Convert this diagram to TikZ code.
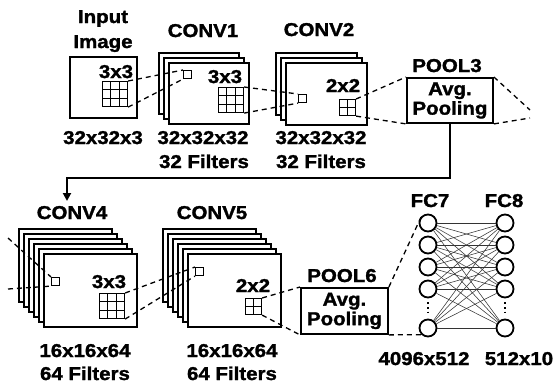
\documentclass[tikz,border=0pt]{standalone}
\usepackage{fontspec}
\setmainfont{Liberation Sans}[FakeStretch=1.1, BoldFeatures={FakeBold=1.5}]
\usetikzlibrary{positioning,arrows.meta,calc}

\begin{document}
\begin{tikzpicture}[
    x=1pt, y=-1pt,
    txt/.style={font=\bfseries\fontsize{18.6}{19}\selectfont, inner sep=0pt, anchor=base},
    fmap/.style={draw, fill=white, line width=1.6pt, anchor=north west, inner sep=0pt},
    poolbox/.style={draw, line width=1.9pt, align=center, inner sep=0pt, anchor=north west,
                    minimum width=86pt, minimum height=45pt,
                    font=\bfseries\fontsize{18.6}{19.5}\selectfont},
    kern/.style={draw, line width=1.1pt, anchor=north west, inner sep=0pt, minimum size=8pt},
    win/.style={draw, line width=1.1pt, anchor=north west, inner sep=0pt,
      path picture={
        \pgfmathtruncatemacro\last{#1-1}
        \foreach \k in {1,...,\last}{
          \pgfmathsetmacro\f{\k/#1}
          \draw[line width=1.1pt]
            ($(path picture bounding box.north west)!\f!(path picture bounding box.north east)$)
            -- ($(path picture bounding box.south west)!\f!(path picture bounding box.south east)$);
          \draw[line width=1.1pt]
            ($(path picture bounding box.north west)!\f!(path picture bounding box.south west)$)
            -- ($(path picture bounding box.north east)!\f!(path picture bounding box.south east)$);
        }}},
    link/.style={line width=1.3pt, dash pattern=on 5pt off 4pt},
    neuron/.style={draw, circle, line width=1.8pt, minimum size=17pt, inner sep=0pt},
    wire/.style={line width=0.55pt, black!80},
  ]
  \useasboundingbox (0,0) rectangle (556,386);

  % --- Input image ---
  \node[txt] (inl1) at (103,23) {Input};
  \node[txt] (inl2) at (103,48) {Image};
  \node[fmap, minimum width=67pt, minimum height=61pt] (img) at (69,56) {};
  \node[txt] (imk) at (116,78) {3x3};
  \node[win=3, minimum size=25pt] (g0) at (102,81) {};
  \node[txt] (imsz) at (103,144) {32x32x3};

  % --- CONV1 ---
  \node[txt] (c1l) at (203,37) {CONV1};
  \foreach \i in {0,1,2}
    \node[fmap, minimum width=80pt, minimum height=61pt] (c1-\i) at (158+5*\i,52+5*\i) {};
  \node[kern] (k1) at (183,70) {};
  \node[txt] (c1k) at (225,83) {3x3};
  \node[win=3, minimum size=25pt] (g1) at (218,87) {};
  \node[txt] (c1s) at (203,144) {32x32x32};
  \node[txt] (c1f) at (204,168) {32 Filters};
  \draw[link] (g0.north east) -- (k1.north west);
  \draw[link] (g0.south east) -- (k1.south west);

  % --- CONV2 ---
  \node[txt] (c2l) at (319,36) {CONV2};
  \foreach \i in {0,1,2}
    \node[fmap, minimum width=81pt, minimum height=62pt] (c2-\i) at (275+5*\i,52+5*\i) {};
  \node[kern] (k2) at (298,94) {};
  \node[txt] (c2k) at (343,92) {2x2};
  \node[win=2, minimum size=16pt] (g2) at (339,99) {};
  \node[txt] (c2s) at (321,144) {32x32x32};
  \node[txt] (c2f) at (321,168) {32 Filters};
  \draw[link] (g1.north east) -- (k2.north west);
  \draw[link] (g1.south east) -- (k2.south west);

  % --- POOL3 ---
  \node[txt] (p3l) at (447,72) {POOL3};
  \node[poolbox] (p3) at (406,77) {Avg.\\Pooling};
  \draw[link] (g2.north east) -- (p3.north west);
  \draw[link] (g2.south east) -- (p3.south west);
  \coordinate (p3a) at (530,110);
  \coordinate (p3b) at (530,118);
  \draw[link] (p3.north east) -- (p3a);
  \draw[link] (p3.south east) -- (p3b);

  % row change
  \coordinate (drop) at (67,201);
  \draw[line width=2.4pt, -{Triangle[length=8pt,width=8pt]}]
    (p3.south) -- ++(0,54) -| (drop);

  % --- CONV4 ---
  \node[txt] (c4l) at (72,219) {CONV4};
  \foreach \i in {0,...,5}
    \node[fmap, minimum width=93pt, minimum height=73pt] (c4-\i) at (18+5*\i,228+5*\i) {};
  \node[kern] (k4) at (51,277) {};
  \node[txt] (c4k) at (109,288) {3x3};
  \node[win=3, minimum size=25pt] (g4) at (99,293) {};
  \node[txt] (c4s) at (85,357) {16x16x64};
  \node[txt] (c4f) at (85,380) {64 Filters};
  \coordinate (c4a) at (8,238);
  \coordinate (c4b) at (8,289);
  \draw[link] (c4a) -- (k4.north west);
  \draw[link] (c4b) -- (k4.south west);

  % --- CONV5 ---
  \node[txt] (c5l) at (212,219) {CONV5};
  \foreach \i in {0,...,5}
    \node[fmap, minimum width=93pt, minimum height=73pt] (c5-\i) at (162+5*\i,228+5*\i) {};
  \node[kern] (k5) at (195,267) {};
  \node[txt] (c5k) at (253,292) {2x2};
  \node[win=2, minimum size=16pt] (g5) at (245,298) {};
  \node[txt] (c5s) at (232,357) {16x16x64};
  \node[txt] (c5f) at (232,380) {64 Filters};
  \draw[link] (g4.north east) -- (k5.north west);
  \draw[link] (g4.south east) -- (k5.south west);

  % --- POOL6 ---
  \node[txt] (p6l) at (342,282) {POOL6};
  \node[poolbox, minimum width=87pt, minimum height=46pt] (p6) at (300,287) {Avg.\\Pooling};
  \draw[link] (g5.north east) -- (p6.north west);
  \draw[link] (g5.south east) -- (p6.south west);

  % --- FC7 / FC8 ---
  \node[txt] (f7l) at (430,207) {FC7};
  \node[txt] (f8l) at (504,207) {FC8};
  \foreach \j/\yy in {1/223,2/245,3/267,4/289,5/328}{
    \node[neuron] (f7-\j) at (428,\yy) {};
    \node[neuron] (f8-\j) at (505,\yy) {};
  }
  \foreach \a in {1,...,5}
    \foreach \b in {1,...,5}
      \draw[wire] (f7-\a) -- (f8-\b);
  \draw[line width=1.6pt, dash pattern=on 1.6pt off 3pt, shorten <=4pt, shorten >=3pt]
    (f7-4.south) -- (f7-5.north);
  \draw[line width=1.6pt, dash pattern=on 1.6pt off 3pt, shorten <=4pt, shorten >=3pt]
    (f8-4.south) -- (f8-5.north);
  \draw[link] (p6.north east) -- (f7-1.north west);
  \draw[link] (p6.south east) -- (f7-5.south west);
  \node[txt] (f7s) at (424,365) {4096x512};
  \node[txt] (f8s) at (519,365) {512x10};
\end{tikzpicture}
\end{document}
